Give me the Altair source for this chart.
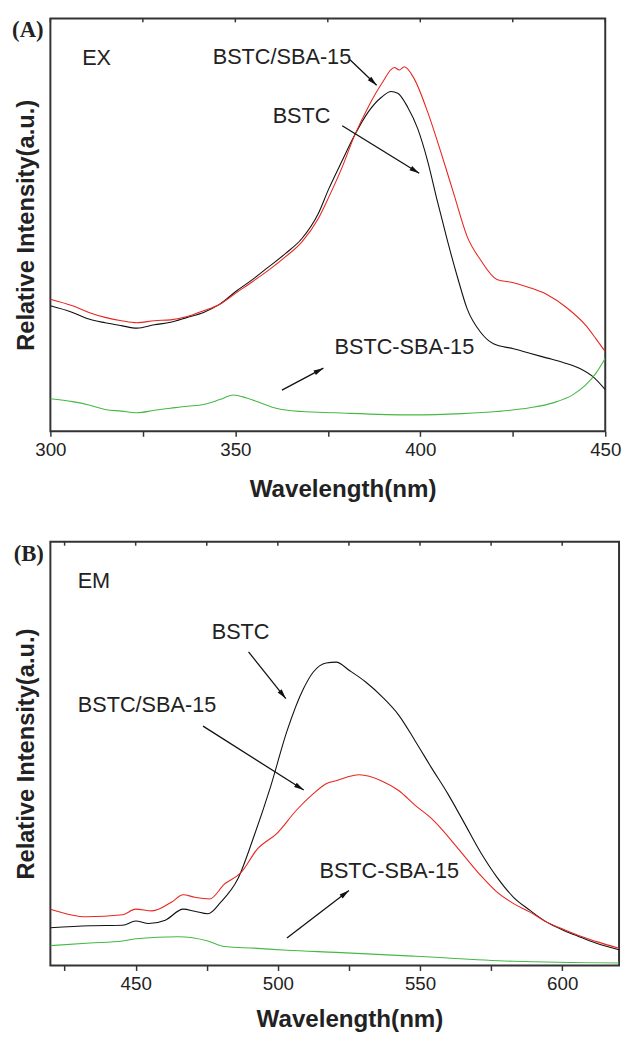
import math
import altair as alt
import pandas as pd

# ---------------- Panel A (excitation) ----------------
ex_bstc_wl = [300, 306, 310.4, 314.8, 319.2, 323.4, 328.1, 332.5, 337, 341.4,
              345.8, 350.3, 354.7, 359.1, 363.6, 368, 372.4, 375.2, 378.8, 382.3,
              385.9, 389.5, 392.1, 393.9, 396.6, 399.3, 402, 404.6, 407.3, 410,
              412.7, 416.3, 419.8, 425.2, 429.6, 434.1, 438.6, 443, 446.6, 450]
ex_bstc_val = [30.4, 28.8, 27.2, 26.3, 25.6, 25.0, 25.8, 26.4, 27.6, 28.8,
               30.8, 34.0, 36.8, 39.9, 43.1, 46.7, 52.7, 58.6, 65.4, 71.8,
               77.3, 80.9, 82.3, 81.9, 78.5, 73.3, 65.4, 55.8, 46.3, 37.5,
               29.6, 24.0, 21.2, 20.0, 18.9, 17.8, 16.7, 15.3, 13.3, 10.1]

ex_comp_wl = [300, 306, 310.4, 314.8, 319.2, 323.4, 328.1, 332.5, 337, 341.4,
              345.8, 350.3, 354.7, 359.1, 363.6, 368, 372.4, 375.2, 378.8, 382.3,
              385.9, 389.5, 393, 394.3, 395.7, 398.4, 402, 405.5, 409.1, 412.7,
              416.3, 420.7, 425.2, 429.6, 434.1, 439.5, 444.8, 447.5, 450]
ex_comp_val = [32.0, 30.4, 28.8, 27.6, 26.8, 26.3, 26.8, 27.0, 27.8, 29.2,
               30.8, 33.6, 36.3, 39.1, 42.3, 45.9, 51.5, 56.6, 63.8, 71.8,
               78.5, 84.1, 88.1, 87.5, 88.3, 85.3, 77.3, 67.8, 57.4, 47.1,
               41.5, 36.8, 36.0, 34.8, 33.2, 30.0, 25.6, 22.4, 19.3]

ex_sba_wl = [300, 306, 310.4, 314.8, 319.2, 323.4, 328.1, 332.5, 337, 341.4,
             345.8, 349.4, 353, 357.4, 361, 368, 376.9, 397.7, 411.3, 420.7,
             429.6, 435.9, 441.3, 444.8, 447.5, 450]
ex_sba_val = [7.9, 7.2, 6.4, 5.3, 4.9, 4.5, 5.1, 5.6, 6.1, 6.5,
              7.7, 8.8, 8.1, 6.7, 5.6, 4.8, 4.5, 4.0, 4.3, 4.8,
              5.7, 6.9, 8.9, 11.3, 14.1, 17.7]

# ---------------- Panel B (emission) ----------------
em_bstc_wl = [420, 433.9, 445.4, 450, 454.6, 460.4, 466.7, 470.8, 475.4, 480,
              485.9, 491.6, 497.4, 503.2, 509, 512.4, 517, 520.5, 525.2, 530.9,
              536.7, 542.5, 548.3, 554, 559.8, 565.6, 571.4, 577.1, 582.9, 588.7,
              594.4, 600.2, 606, 611.8, 620]
em_bstc_val = [8.9, 9.4, 9.5, 10.5, 9.9, 10.7, 13.3, 12.8, 12.2, 15.0,
               20.4, 30.5, 42.1, 55.3, 65.3, 69.2, 71.4, 71.6, 69.6, 66.9,
               63.4, 59.1, 53.0, 46.7, 40.5, 33.6, 26.6, 20.8, 16.1, 13.0,
               10.3, 8.4, 6.8, 5.3, 3.7]

em_comp_wl = [420, 432.7, 445.4, 450, 455.8, 462.7, 466.7, 470.8, 476, 481.2,
              487, 492.7, 499.7, 506.6, 512.4, 517, 520.5, 528.6, 536.7, 542.5,
              548.3, 554, 559.8, 565.6, 571.4, 577.1, 582.9, 588.7, 594.4, 600.2,
              606, 611.8, 620]
em_comp_val = [13.3, 11.5, 12.0, 13.3, 12.9, 15.0, 16.7, 16.1, 15.7, 19.2,
               21.9, 27.4, 31.2, 36.7, 40.5, 42.9, 43.6, 45.0, 43.5, 41.3,
               37.8, 34.7, 30.5, 25.8, 21.2, 17.3, 14.6, 12.6, 10.3, 8.6,
               7.0, 5.7, 4.1]

em_sba_wl = [420, 433.9, 445.4, 450, 465, 475.4, 481.2, 491.6, 503.2, 520.5,
             548.3, 582.9, 620]
em_sba_val = [4.7, 5.3, 5.8, 6.3, 6.8, 5.8, 4.5, 4.1, 3.6, 3.1,
              2.2, 1.0, 0.6]

series_names = ["BSTC", "BSTC/SBA-15", "BSTC-SBA-15"]
series_colors = ["#111111", "#e8261f", "#44b944"]

# annotations (data coordinates)
a_text_x = [312.5, 362.6, 367.9, 395.7]
a_text_y = [90.5, 90.7, 76.4, 20.3]
a_text = ["EX", "BSTC/SBA-15", "BSTC", "BSTC-SBA-15"]
a_arrow_x1 = [381.0, 378.9, 362.6]
a_arrow_y1 = [90.0, 74.0, 10.0]
a_arrow_x2 = [388.2, 399.7, 373.8]
a_arrow_y2 = [83.8, 62.5, 15.3]

b_text_x = [435.3, 486.9, 454.0, 539.2]
b_text_y = [90.7, 78.6, 61.4, 22.3]
b_text = ["EM", "BSTC", "BSTC/SBA-15", "BSTC-SBA-15"]
b_arrow_x1 = [489.7, 473.7, 503.2]
b_arrow_y1 = [74.0, 56.5, 6.5]
b_arrow_x2 = [502.8, 509.1, 525.0]
b_arrow_y2 = [63.0, 41.4, 17.7]

A_DOM = [300, 450]
B_DOM = [420, 620]
A_TICKS = [300, 325, 350, 375, 400, 425, 450]
B_TICKS = [425, 450, 475, 500, 525, 550, 575, 600]

FONT = "Liberation Sans"
INK = "#222222"
AX = "#333333"
HEAD = "M0,0L0.5,1.9L-0.5,1.9Z"


def long_df(pairs):
    rows = []
    for name, wl, val in pairs:
        for w, v in zip(wl, val):
            rows.append({"wl": w, "val": v, "series": name})
    return pd.DataFrame(rows)


def panel(df, dom, ticks, w, h, tx, ty, tt, ax1, ay1, ax2, ay2, tag, tag_x, tpad):
    xscale = alt.Scale(domain=dom, nice=False, zero=False)
    yscale = alt.Scale(domain=[0, 100], nice=False, zero=False)
    span = dom[1] - dom[0]

    bottom_axis = alt.Axis(
        orient="bottom",
        values=ticks, labelExpr="datum.value % 50 == 0 ? datum.label : ''",
        tickSize=5, tickWidth=1.5, tickColor=AX, domain=False, grid=False,
        labelFont=FONT, labelFontSize=19, labelColor=INK, labelPadding=4,
        labelFlush=False, labelOverlap=False, format="d",
        title="Wavelength(nm)", titleFont=FONT, titleFontSize=24.5,
        titleFontWeight="bold", titleColor=INK, titlePadding=tpad,
        titleX=w / 2 + 15,
    )
    y_axis = alt.Axis(
        labels=False, ticks=False, domain=False, grid=False,
        title="Relative Intensity(a.u.)", titleFont=FONT, titleFontSize=24,
        titleFontWeight="bold", titleColor=INK, titlePadding=12,
    )

    def X(field):
        return alt.X(field, scale=xscale, axis=bottom_axis, title="Wavelength(nm)")

    def Y(field):
        return alt.Y(field, scale=yscale, axis=y_axis, title="Relative Intensity(a.u.)")

    lines = alt.Chart(df).mark_line(strokeWidth=1.1, clip=True, interpolate="monotone").encode(
        x=X("wl:Q"), y=Y("val:Q"),
        color=alt.Color("series:N", scale=alt.Scale(domain=series_names, range=series_colors), legend=None),
        detail="series:N",
    )

    # inward ticks on the top frame
    topticks = alt.Chart(pd.DataFrame({"t": ticks})).mark_rule(color=AX, strokeWidth=1.5).encode(
        x=X("t:Q"), y=alt.value(0), y2=alt.value(4),
    )

    tdf = pd.DataFrame({"x": tx, "y": ty, "t": tt})
    texts = alt.Chart(tdf).mark_text(font=FONT, fontSize=22, color=INK, align="center", baseline="middle").encode(
        x=X("x:Q"), y=Y("y:Q"), text="t:N"
    )

    angs = []
    for x1, y1, x2, y2 in zip(ax1, ay1, ax2, ay2):
        dx = (x2 - x1) * w / span
        dy = -(y2 - y1) * h / 100.0
        angs.append(math.degrees(math.atan2(dx, -dy)) % 360)
    adf = pd.DataFrame({"x1": ax1, "y1": ay1, "x2": ax2, "y2": ay2, "ang": angs})
    shafts = alt.Chart(adf).mark_rule(strokeWidth=1.3, color="#111111").encode(
        x=X("x1:Q"), y=Y("y1:Q"), x2="x2:Q", y2="y2:Q",
    )
    heads = alt.Chart(adf).mark_point(shape=HEAD, filled=True, size=110, color="#111111", opacity=1).encode(
        x=X("x2:Q"), y=Y("y2:Q"), angle=alt.Angle("ang:Q", scale=None),
    )

    tagdf = pd.DataFrame({"x": [tag_x], "y": [97.1], "t": [tag]})
    tagm = alt.Chart(tagdf).mark_text(font="Liberation Serif", fontSize=23, fontWeight="bold",
                                      color=INK, align="center", baseline="middle").encode(
        x=X("x:Q"), y=Y("y:Q"), text="t:N"
    )

    return alt.layer(lines, topticks, shafts, heads, texts, tagm).properties(width=w, height=h)


dfA = long_df([("BSTC", ex_bstc_wl, ex_bstc_val),
               ("BSTC/SBA-15", ex_comp_wl, ex_comp_val),
               ("BSTC-SBA-15", ex_sba_wl, ex_sba_val)])
dfB = long_df([("BSTC", em_bstc_wl, em_bstc_val),
               ("BSTC/SBA-15", em_comp_wl, em_comp_val),
               ("BSTC-SBA-15", em_sba_wl, em_sba_val)])

pA = panel(dfA, A_DOM, A_TICKS, 563, 419, a_text_x, a_text_y, a_text,
           a_arrow_x1, a_arrow_y1, a_arrow_x2, a_arrow_y2, "(A)", 293.9, 19)
pB = panel(dfB, B_DOM, B_TICKS, 577, 430, b_text_x, b_text_y, b_text,
           b_arrow_x1, b_arrow_y1, b_arrow_x2, b_arrow_y2, "(B)", 412.4, 15)

chart = alt.vconcat(pA, pB, spacing=38).properties(
    padding={"left": 3, "top": 1, "right": 0, "bottom": 0},
    background="white",
).configure_view(stroke=AX, strokeWidth=2).configure_axis(grid=False)

chart.save("out.html", embed_options={"renderer": "svg", "actions": False})
